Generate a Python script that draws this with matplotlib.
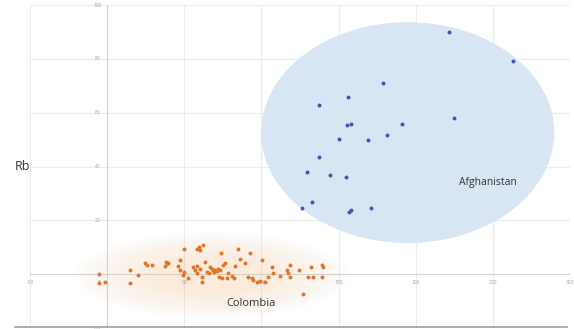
import numpy as np
import matplotlib.pyplot as plt
from matplotlib.patches import Ellipse
from matplotlib.lines import Line2D

# Sr (x) vs Rb (y) for two sample groups
afg_x = [221.6, 263.0, 178.9, 156.2, 137.4, 224.9, 155.5, 158.1, 191.2, 181.5,
         150.4, 169.2, 137.4, 129.6, 144.5, 154.9, 132.9, 126.4, 156.8, 158.1, 171.1]
afg_y = [90.0, 79.2, 71.1, 65.8, 62.8, 58.0, 55.4, 55.8, 55.8, 51.7,
         50.2, 49.8, 43.5, 37.9, 36.8, 36.1, 26.8, 24.5, 23.0, 23.8, 24.5]

col_x = [-5.0, -5.0, -1.3, 14.9, 14.5, 20.3, 24.6, 26.1, 29.2, 38.2, 38.7, 37.8, 39.7,
         46.9, 46.2, 46.9, 49.5, 49.0, 50.1, 58.1, 59.8, 62.4, 60.3, 52.7, 55.9, 57.0,
         58.5, 58.1, 60.3, 61.4, 61.4, 63.5, 64.6, 65.7, 66.8, 67.8, 68.5, 69.3, 70.0,
         71.1, 72.1, 73.2, 72.8, 74.3, 75.4, 76.5, 77.6, 73.7, 78.6, 80.8, 81.9, 83.0,
         85.1, 86.2, 89.4, 92.7, 91.6, 93.8, 94.8, 97.0, 99.2, 100.3, 102.4, 104.5,
         106.7, 107.8, 112.1, 116.5, 118.2, 117.5, 118.6, 124.2, 127.2, 130.5, 132.0,
         133.7, 139.1, 140.2, 139.1]
col_y = [0.1, -3.2, -2.9, 1.7, -3.2, -0.4, 4.0, 3.3, 3.5, 4.6, 4.0, 3.0, 4.0,
         5.2, 3.0, 1.5, 0.9, -0.4, 9.3, 9.2, 10.2, 10.8, 8.9, -1.6, 2.7, 1.7,
         3.0, 0.5, 2.1, -1.0, -2.9, 4.6, 0.9, 0.3, 2.7, 2.1, 1.5, 0.9, 1.7,
         1.2, 2.1, 1.5, -1.0, -1.6, 3.3, 4.0, -1.6, 7.9, 0.5, -0.7, -1.4, 3.0,
         9.2, 5.5, 4.0, 7.9, -1.0, -1.6, -2.2, -2.9, -2.5, 5.2, -2.9, -1.0,
         2.5, 0.3, -0.7, 1.5, 3.3, 0.3, -1.0, 1.7, -7.2, -1.0, 2.5,
         -1.0, 3.3, 2.5, -1.0]

x_ticks = [-50, 0, 50, 100, 150, 200, 250, 300]
y_ticks = [-20, 0, 20, 40, 60, 80, 100]

plt.rcParams['font.family'] = ['Open Sans', 'DejaVu Sans']

fig = plt.figure(figsize=(5.74, 3.29), dpi=100)
ax = fig.add_axes([30/574, 1/329, 540/574, 323/329])
ax.set_xlim(-50, 300)
ax.set_ylim(-20, 100)
for s in ax.spines.values():
    s.set_visible(False)
ax.set_xticks([])
ax.set_yticks([])

# grid
for xv in x_ticks:
    ax.axvline(xv, color='#ececec', lw=0.8, zorder=0)
for yv in y_ticks:
    ax.axhline(yv, color='#ececec', lw=0.8, zorder=0)
ax.axhline(0, color='#d4d4d4', lw=0.8, zorder=0.5)
ax.axvline(0, color='#d4d4d4', lw=0.8, zorder=0.5)

# tick labels sitting on the axes
for xv in x_ticks:
    ax.text(xv - (5 if xv == 0 else 0), -3, str(xv), ha='center', va='center',
            fontsize=3.5, color='#a0a0a0')
for yv in y_ticks:
    if yv == 0:
        continue
    ax.text(-6, yv, str(yv), ha='center', va='center', fontsize=3.5, color='#a0a0a0')

# group outlines
ax.add_patch(Ellipse((194.8, 52.6), 190, 82, facecolor='#d8e6f3', edgecolor='none',
                     zorder=1))
# soft glow: stacked translucent ellipses
for k in range(16):
    f = 1.0 - k * 0.04
    ax.add_patch(Ellipse((68, -0.4), 178 * f, 32 * f, facecolor='#fad3ab',
                         edgecolor='none', alpha=0.028, zorder=1))

ax.scatter(afg_x, afg_y, s=8, color='#3f55b0', zorder=3, linewidths=0)
ax.scatter(col_x, col_y, s=8, color='#e2742c', zorder=3, linewidths=0)

ax.text(247, 34.2, 'Afghanistan', ha='center', va='center', fontsize=7.5, color='#333333')
ax.text(93, -10.8, 'Colombia', ha='center', va='center', fontsize=8, color='#333333')

fig.text(22/574, 1 - 167/329, 'Rb', ha='center', va='center', fontsize=9, color='#333333')
fig.add_artist(Line2D([15/574, 567/574], [2/329, 2/329], color='#a0a0a0', lw=1.2))

fig.savefig('out.png', dpi=100)
